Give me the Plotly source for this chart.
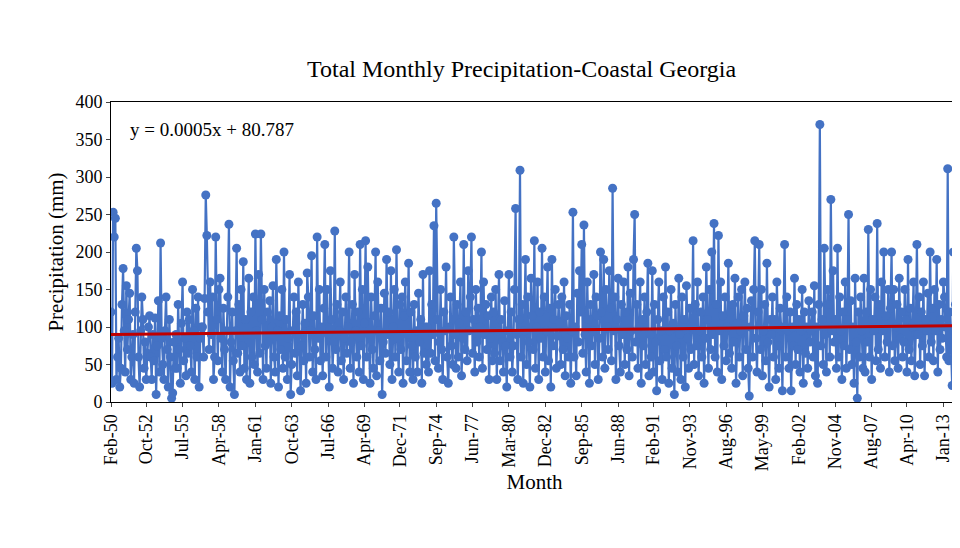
import plotly.graph_objects as go
import pandas as pd

rows = [
 [120,25,253,220,245,30,60,85,20,45,130],  # 1950 Feb-Dec
 [178,95,40,155,70,110,145,30,60,90,25,120],
 [205,175,60,20,95,140,110,45,80,30,65,100],
 [115,60,30,90,55,112,10,75,135,40,212,85],
 [50,30,95,140,70,20,110,60,5,12,80,45],
 [90,45,130,70,25,105,160,55,85,35,120,65],
 [110,75,40,150,95,30,125,60,140,20,85,100],
 [100,60,138,276,222,120,70,160,90,140,30,60],
 [220,110,55,150,165,85,40,125,70,30,95,140],
 [237,20,80,120,55,10,95,205,65,130,40,150],
 [75,187,45,110,30,90,165,25,120,60,140,50],
 [224,95,40,170,65,224,110,30,150,75,45,120],
 [80,135,25,100,155,60,40,190,95,20,115,70],
 [150,45,200,60,110,30,85,170,10,50,95,140],
 [65,120,35,160,90,15,75,130,55,105,25,172],
 [140,60,95,195,40,115,70,30,220,85,150,55],
 [100,35,125,210,60,150,90,20,175,110,45,80],
 [228,70,130,40,95,160,55,120,30,85,140,65],
 [100,200,45,80,130,25,170,95,60,120,40,210],
 [75,150,30,105,215,60,180,90,25,140,70,45],
 [115,200,35,160,95,55,125,10,80,145,65,190],
 [90,120,50,175,30,100,150,60,203,85,40,130],
 [70,140,25,115,160,55,90,185,40,120,75,30],
 [130,60,95,40,145,80,110,25,170,65,100,50],
 [100,40,175,65,130,90,235,55,265,110,45,80],
 [150,70,30,120,95,180,60,25,100,140,75,50],
 [220,90,45,130,60,105,160,35,85,210,70,120],
 [55,175,95,140,220,65,110,40,150,80,125,60],
 [100,200,45,160,90,130,70,115,30,85,140,55],
 [120,65,150,30,95,170,55,110,80,40,135,75],
 [20,95,170,60,120,40,75,150,258,90,30,110],
 [309,60,130,25,95,190,50,140,80,20,165,115],
 [70,215,45,100,160,30,120,85,205,60,140,40],
 [95,180,55,125,20,190,75,110,150,45,88,130],
 [105,50,140,70,160,35,115,85,60,130,25,95],
 [253,60,100,35,145,80,175,120,210,65,236,90],
 [40,160,110,25,130,75,95,170,50,140,115,30],
 [85,200,120,60,190,45,150,100,70,175,125,55],
 [285,95,140,30,110,165,75,40,130,90,160,50],
 [120,70,180,35,145,95,60,190,250,80,130,45],
 [100,160,25,110,75,140,50,120,185,35,90,60],
 [175,40,130,80,15,110,160,55,95,30,140,70],
 [180,60,120,25,95,150,45,105,10,130,75,40],
 [165,90,30,140,60,110,20,155,85,45,125,70],
 [100,215,50,130,75,160,35,95,120,60,140,25],
 [85,180,110,45,150,70,200,90,238,60,130,40],
 [222,95,160,30,115,75,140,55,100,185,65,120],
 [45,130,80,165,25,105,140,60,95,150,35,115],
 [160,70,125,45,8,100,135,60,150,215,85,40],
 [120,210,70,150,35,95,130,55,185,80,20,110],
 [90,140,60,110,30,160,75,45,125,95,15,100],
 [210,60,140,95,45,120,15,100,75,165,50,130],
 [70,110,40,95,150,25,120,65,100,45,135,80],
 [95,120,60,155,35,100,25,130,370,75,110,50],
 [205,90,40,150,130,60,270,95,175,80,110,45],
 [205,60,140,95,30,120,75,160,45,110,250,70],
 [135,50,100,25,165,80,5,120,60,140,95,45],
 [165,40,120,80,230,60,150,30,110,95,140,55],
 [238,70,130,45,160,95,200,60,115,80,150,40],
 [125,200,75,150,55,100,130,45,165,85,120,60],
 [80,150,110,40,190,70,125,55,100,160,35,90],
 [210,90,140,50,120,75,160,35,110,95,145,60],
 [200,80,125,55,150,95,190,40,130,70,110,85],
 [160,140,100,60,311,55,120,80,22,200,95,130],
 [280,115],
]

dates = pd.date_range("1950-02-01", periods=sum(len(r) for r in rows), freq="MS")
values = [v for r in rows for v in r]

tick_labels = ["Feb-50","Oct-52","Jul-55","Apr-58","Jan-61","Oct-63","Jul-66","Apr-69",
               "Dec-71","Sep-74","Jun-77","Mar-80","Dec-82","Sep-85","Jun-88","Feb-91",
               "Nov-93","Aug-96","May-99","Feb-02","Nov-04","Aug-07","Apr-10","Jan-13",
               "Oct-15","Jul-18","Apr-21","Jan-24"]
def parse(t):
    yy = int(t[-2:])
    year = 2000 + yy if yy < 30 else 1900 + yy
    return pd.to_datetime(f"{year}-{t[:3]}", format="%Y-%b")
tick_vals = [parse(t) for t in tick_labels]

slope, intercept = 0.0005, 80.787
def serial(d):
    return (d - pd.Timestamp("1899-12-30")).days
tx = [dates[0], dates[-1]]
ty = [slope * serial(d) + intercept for d in tx]

fig = go.Figure()
fig.add_trace(go.Scatter(x=dates, y=values, mode="lines+markers",
    line=dict(color="#4472C4", width=2.2), marker=dict(color="#4472C4", size=9)))
fig.add_trace(go.Scatter(x=tx, y=ty, mode="lines", line=dict(color="#C00000", width=3)))
fig.add_annotation(x=0.02, y=0.95, xref="paper", yref="paper", xanchor="left", yanchor="top",
    text="y = 0.0005x + 80.787", showarrow=False, font=dict(size=19))

fig.update_layout(
    width=960, height=548, showlegend=False, plot_bgcolor="white", paper_bgcolor="white",
    font=dict(family="Liberation Serif", color="black", size=18),
    margin=dict(l=103, r=10, t=94, b=154),
    title=dict(text="Total Monthly Precipitation-Coastal Georgia", x=0.535, y=0.905, yanchor="top",
               xanchor="center", font=dict(size=24)),
    xaxis=dict(range=[dates[0], dates[-1] + pd.Timedelta(days=8)], tickvals=tick_vals, ticktext=tick_labels,
               tickangle=-90, showgrid=False, showline=True, linecolor="black", mirror=True,
               ticks="outside", ticklen=4, title=dict(text="Month", font=dict(size=21), standoff=4)),
    yaxis=dict(range=[0, 400], dtick=50, showgrid=False, showline=True, linecolor="black", mirror=True,
               ticks="outside", ticklen=4, title=dict(text="Precipitation (mm)", font=dict(size=21), standoff=6)),
)
fig.write_html("out.html")
